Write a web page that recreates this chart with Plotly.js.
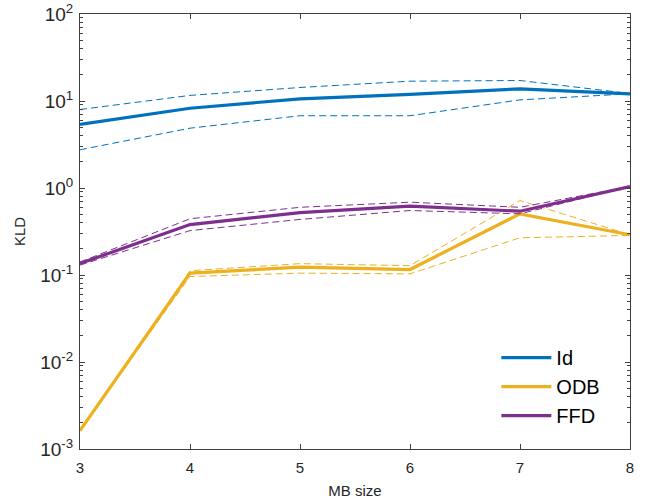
<!DOCTYPE html>
<html>
<head>
<meta charset="utf-8">
<script src="https://cdn.plot.ly/plotly-3.0.1.min.js"></script>
<style>html,body{margin:0;padding:0;background:#fff;}#chart{width:656px;height:502px;}</style>
</head>
<body>
<div id="chart"></div>
<script>
var mbSize = [3, 4, 5, 6, 7, 8];

var idMean  = [5.37, 8.26, 10.6, 11.9, 13.8, 12.1];
var idUpper = [7.98, 11.6, 14.3, 16.9, 17.2, 12.2];
var idLower = [2.75, 4.87, 6.77, 6.77, 10.3, 12.1];

var odbMean  = [0.00163, 0.105, 0.123, 0.1156, 0.505, 0.29];
var odbUpper = [0.00163, 0.112, 0.135, 0.128, 0.718, 0.29];
var odbLower = [0.00163, 0.096, 0.105, 0.103, 0.268, 0.285];

var ffdMean  = [0.1355, 0.380, 0.522, 0.618, 0.541, 1.04];
var ffdUpper = [0.141, 0.443, 0.60, 0.687, 0.60, 1.04];
var ffdLower = [0.130, 0.324, 0.435, 0.551, 0.505, 1.04];

var seriesNames = ['Id', 'ODB', 'FFD'];
var colors = ['#0072BD', '#EDB120', '#7E2F8E'];

var yTickVals = [0.001, 0.01, 0.1, 1, 10, 100];
var yTickText = ['10<sup>-3</sup>', '10<sup>-2</sup>', '10<sup>-1</sup>', '10<sup>0</sup>', '10<sup>1</sup>', '10<sup>2</sup>'];

var minorVals = [];
for (var e = -3; e < 2; e++) {
  for (var m = 2; m <= 9; m++) minorVals.push(m * Math.pow(10, e));
}

var groups = [
  [idMean, idUpper, idLower],
  [odbMean, odbUpper, odbLower],
  [ffdMean, ffdUpper, ffdLower]
];

var traces = [];
groups.forEach(function (g, i) {
  traces.push({
    x: mbSize, y: g[1], type: 'scatter', mode: 'lines', showlegend: false,
    line: {color: colors[i], width: 1, dash: '7px,4px'}, hoverinfo: 'skip'
  });
  traces.push({
    x: mbSize, y: g[2], type: 'scatter', mode: 'lines', showlegend: false,
    line: {color: colors[i], width: 1, dash: '7px,4px'}, hoverinfo: 'skip'
  });
  traces.push({
    x: mbSize, y: g[0], type: 'scatter', mode: 'lines', name: seriesNames[i],
    line: {color: colors[i], width: 3.2}
  });
});

var axisColor = '#404040';
var layout = {
  width: 656, height: 502,
  margin: {l: 80, r: 26, t: 14, b: 53},
  paper_bgcolor: '#fff', plot_bgcolor: '#fff',
  font: {family: 'Liberation Sans, Arial, sans-serif', size: 14, color: '#262626'},
  showlegend: true,
  legend: {
    x: 0.757, y: 0.255, xanchor: 'left', yanchor: 'top',
    bgcolor: 'rgba(0,0,0,0)', borderwidth: 0, itemwidth: 50,
    font: {size: 20, color: '#000'}
  },
  xaxis: {
    range: [3, 8], tickvals: mbSize, ticktext: mbSize.map(String),
    ticks: 'inside', ticklen: 5, tickcolor: axisColor, ticklabelstandoff: 5,
    tickfont: {size: 15},
    showline: true, linecolor: axisColor, linewidth: 1, mirror: 'ticks',
    showgrid: false, zeroline: false,
    title: {text: 'MB size', font: {size: 15}, standoff: 10}
  },
  yaxis: {
    type: 'log', range: [-3, 2], tickvals: yTickVals, ticktext: yTickText,
    ticks: 'inside', ticklen: 5, tickcolor: axisColor, tickfont: {size: 19},
    ticklabelstandoff: 2,
    showline: true, linecolor: axisColor, linewidth: 1, mirror: 'ticks',
    showgrid: false, zeroline: false,
    title: {text: 'KLD', font: {size: 15}, standoff: 10}
  },
  yaxis2: {
    type: 'log', range: [-3, 2], overlaying: 'y', anchor: 'x',
    tickvals: minorVals, showticklabels: false,
    ticks: 'inside', ticklen: 3, tickcolor: axisColor,
    showline: false, mirror: 'ticks', showgrid: false, zeroline: false
  }
};

traces.push({x: [3], y: [1], yaxis: 'y2', type: 'scatter', mode: 'markers',
  marker: {opacity: 0}, showlegend: false, hoverinfo: 'skip'});

Plotly.newPlot('chart', traces, layout, {displayModeBar: false, staticPlot: true});
</script>
</body>
</html>
